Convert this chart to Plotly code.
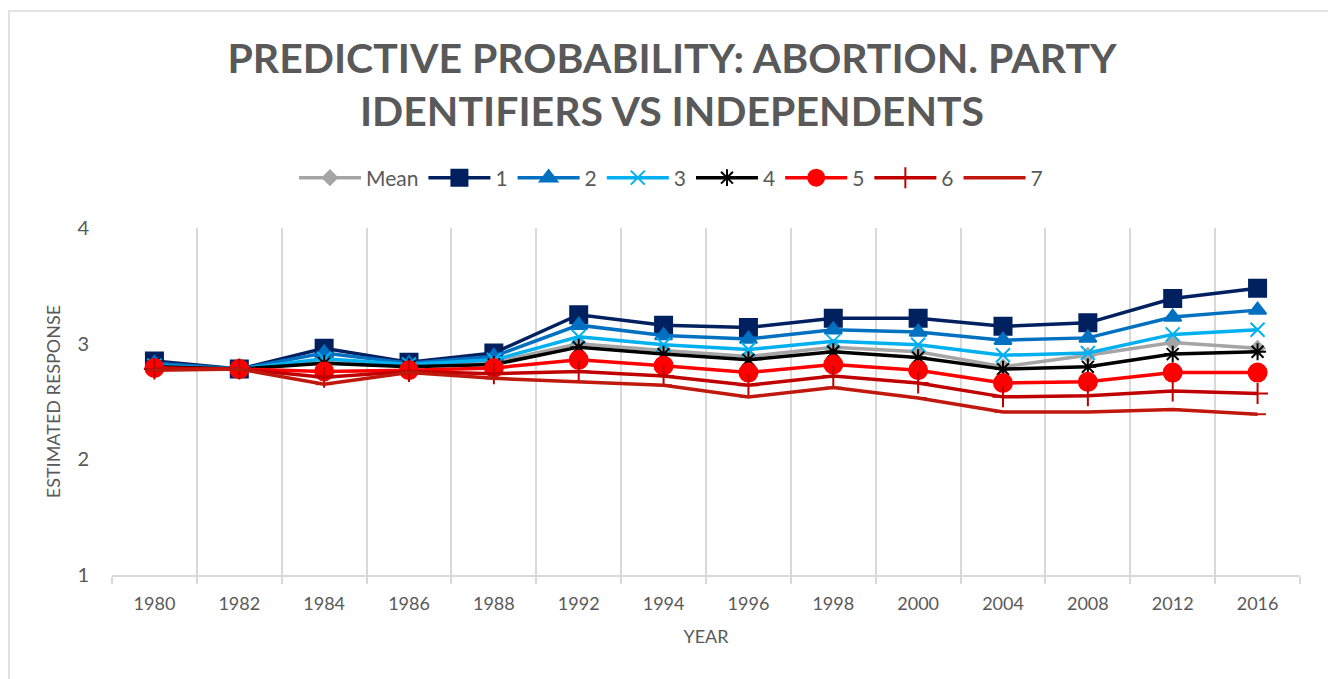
import plotly.graph_objects as go

years = ["1980", "1982", "1984", "1986", "1988", "1992", "1994", "1996",
         "1998", "2000", "2004", "2008", "2012", "2016"]

mean_vals = [2.80, 2.78, 2.85, 2.81, 2.84, 3.00, 2.94, 2.89, 2.97, 2.93, 2.80, 2.90, 3.01, 2.96]
s1 = [2.85, 2.78, 2.96, 2.84, 2.92, 3.25, 3.16, 3.14, 3.22, 3.22, 3.15, 3.18, 3.39, 3.48]
s2 = [2.83, 2.78, 2.92, 2.83, 2.89, 3.16, 3.07, 3.04, 3.12, 3.10, 3.03, 3.05, 3.23, 3.29]
s3 = [2.81, 2.78, 2.87, 2.82, 2.86, 3.06, 2.99, 2.95, 3.02, 2.99, 2.90, 2.92, 3.08, 3.12]
s4 = [2.80, 2.78, 2.83, 2.80, 2.82, 2.97, 2.91, 2.86, 2.93, 2.88, 2.78, 2.80, 2.91, 2.93]
s5 = [2.79, 2.78, 2.76, 2.77, 2.79, 2.86, 2.81, 2.75, 2.82, 2.77, 2.66, 2.67, 2.75, 2.75]
s6 = [2.78, 2.78, 2.71, 2.76, 2.74, 2.76, 2.72, 2.64, 2.72, 2.66, 2.54, 2.55, 2.59, 2.57]
s7 = [2.77, 2.78, 2.65, 2.75, 2.70, 2.67, 2.64, 2.54, 2.62, 2.53, 2.41, 2.41, 2.43, 2.39]

series_names = ["Mean", "1", "2", "3", "4", "5", "6", "7"]
series_values = [mean_vals, s1, s2, s3, s4, s5, s6, s7]
colors = ["#A5A5A5", "#002060", "#0070C0", "#00B0F0", "#000000", "#FF0000", "#C00000", "#C0180C"]
symbols = ["diamond", "square", "triangle-up", "x-thin-open", "asterisk-open",
           "circle", "cross-thin-open", "line-ew-open"]
sizes = [11, 17, 15, 14, 14, 18, 15, 12]

FONT = "Lato"
GREY = "#595959"

# page has an 8px body margin: figure coordinates = page coordinates - 8
W, H = 1328, 671
L, R, T, B = 104, 1292, 220, 567
PW, PH = R - L, B - T

fig = go.Figure()
for name, vals, col, sym, sz in zip(series_names, series_values, colors, symbols, sizes):
    fig.add_trace(go.Scatter(
        x=years, y=vals, name=name, mode="lines+markers",
        line=dict(color=col, width=3.5),
        marker=dict(symbol=sym, size=sz, color=col, line=dict(color=col, width=2)),
    ))

fig.update_layout(
    width=W, height=H,
    paper_bgcolor="white", plot_bgcolor="white",
    margin=dict(l=L, r=W - R, t=T, b=H - B, autoexpand=False),
    font=dict(family=FONT, color=GREY),
    title=dict(
        text="PREDICTIVE PROBABILITY: ABORTION. PARTY<br>IDENTIFIERS VS INDEPENDENTS",
        x=0.5, xanchor="center", yref="container", y=1 - 65 / H, yanchor="top",
        font=dict(family=FONT, size=41, color=GREY, weight="bold"),
    ),
    legend=dict(
        orientation="h", x=(663 - L) / PW, xanchor="center", y=(B - 170) / PH, yanchor="middle",
        font=dict(family=FONT, size=21, color=GREY),
        itemwidth=62,
    ),
    showlegend=True,
)
fig.update_xaxes(
    type="category", tickson="boundaries", range=[-0.5, len(years) - 0.5],
    showgrid=True, gridcolor="#D9D9D9", gridwidth=1.5,
    showline=True, linecolor="#D9D9D9", linewidth=1.5,
    ticks="outside", ticklen=7, tickcolor="#D9D9D9", tickwidth=1.5,
    tickfont=dict(family=FONT, size=18, color=GREY),
    ticklabelstandoff=12,
    title=dict(text="YEAR", font=dict(family=FONT, size=18, color=GREY), standoff=17),
    zeroline=False,
)
fig.update_yaxes(
    range=[1, 4], tickvals=[1, 2, 3, 4], showgrid=False, zeroline=False,
    showline=False, ticks="",
    tickfont=dict(family=FONT, size=20, color=GREY),
    ticklabelstandoff=22,
    title=dict(text="ESTIMATED RESPONSE", font=dict(family=FONT, size=18, color=GREY), standoff=12),
)
fig.add_shape(type="rect", xref="paper", yref="paper",
              x0=(1 - L) / PW, x1=(1322 - L) / PW,
              y0=(B - 700) / PH, y1=(B - 3) / PH,
              line=dict(color="#D9D9D9", width=1.5), fillcolor="rgba(0,0,0,0)", layer="below")

fig.write_html("out.html")
